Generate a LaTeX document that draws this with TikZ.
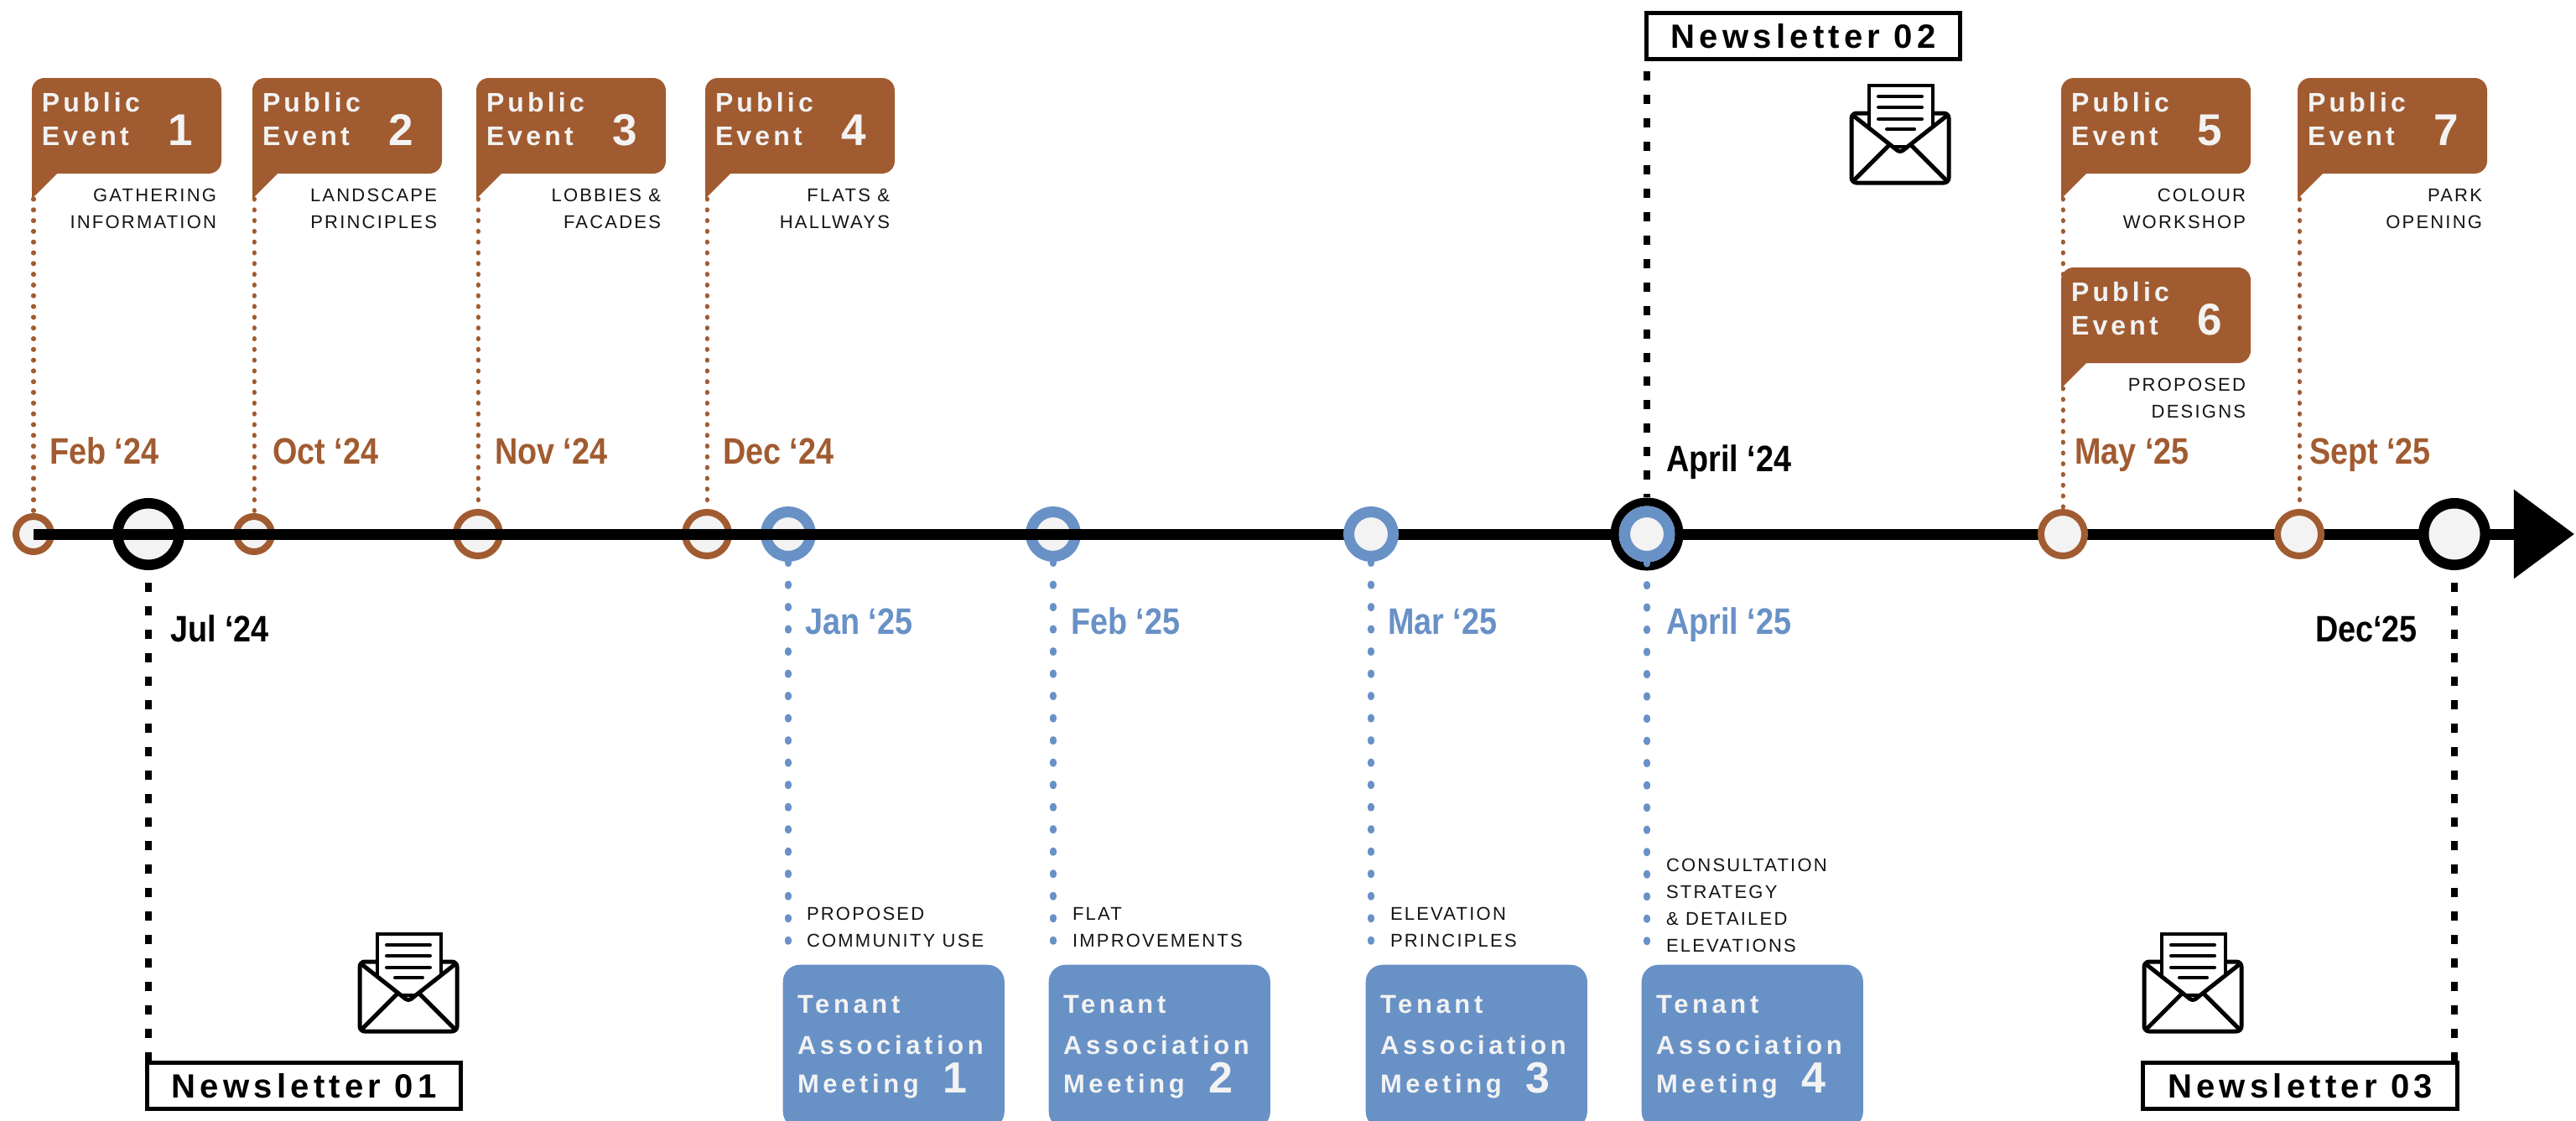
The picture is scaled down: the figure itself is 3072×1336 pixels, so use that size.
\documentclass[tikz,border=0pt]{standalone}
\usepackage{fontspec}
\setmainfont{Liberation Sans}
\newfontfamily\boxfont{Liberation Sans}[LetterSpace=13]
\newfontfamily\tamfont{Liberation Sans}[LetterSpace=15]
\newfontfamily\descfont{Liberation Sans}[LetterSpace=10]
\newfontfamily\datefont{Liberation Sans}[FakeStretch=0.86]
\usetikzlibrary{arrows.meta}
\definecolor{brownc}{RGB}{161,91,48}
\definecolor{bluec}{RGB}{104,145,198}
\definecolor{ringfill}{RGB}{243,243,243}
\definecolor{boxtxt}{RGB}{243,243,243}
\definecolor{desctxt}{RGB}{20,20,20}
\tikzset{
 txt/.style={inner sep=0pt, outer sep=0pt},
 pubtxt/.style={txt, anchor=base west, text=boxtxt, font={\boxfont\bfseries\fontsize{9.1pt}{10pt}\selectfont}},
 pubnum/.style={txt, anchor=base west, text=boxtxt, font={\bfseries\fontsize{15.1pt}{16pt}\selectfont}},
 tamtxt/.style={txt, anchor=base west, text=boxtxt, font={\tamfont\bfseries\fontsize{8.8pt}{10pt}\selectfont}},
 tamnum/.style={txt, anchor=base west, text=boxtxt, font={\bfseries\fontsize{14.8pt}{16pt}\selectfont}},
 desc/.style={txt, text=desctxt, font={\descfont\fontsize{6.26pt}{7pt}\selectfont}},
 datelbl/.style={txt, anchor=base west, font={\datefont\bfseries\fontsize{12.5pt}{14pt}\selectfont}},
 brdot/.style={circle, draw=brownc, fill=ringfill, line width=0.08cm, inner sep=0pt, minimum size=#1},
 brdot/.default=0.52cm,
 bldot/.style={circle, draw=bluec, fill=ringfill, line width=0.13cm, inner sep=0pt, minimum size=0.53cm},
 bkring/.style={circle, draw=black, fill=ringfill, line width=0.125cm, inner sep=0pt, minimum size=0.735cm},
 browndots/.style={draw=brownc, line width=0.05cm, line cap=round, dash pattern=on 0.01cm off 0.118cm},
 bluedots/.style={draw=bluec, line width=0.08cm, line cap=round, dash pattern=on 0.02cm off 0.245cm},
 blackdash/.style={draw=black, line width=0.08cm, dash pattern=on 0.11cm off 0.17cm},
 nlbox/.style={draw=black, line width=0.05cm, fill=white, inner sep=0pt, minimum width=3.74cm, minimum height=0.55cm, font={\boxfont\bfseries\fontsize{11.4pt}{12pt}\selectfont}},
 tambox/.style={fill=bluec, rounded corners=0.2cm, anchor=north west, inner sep=0pt, minimum width=2.64cm, minimum height=1.95cm},
 timeline/.style={line width=0.13cm, draw=black},
 envelope/.pic={
  \draw[line width=0.05cm, rounded corners=0.06cm, fill=white] (2,35) rectangle (118,118);
  \draw[line width=0.045cm, fill=white] (23,2) rectangle (99,75);
  \fill[white] (5,41) -- (60,83) -- (115,41) -- (115,115) -- (5,115) -- cycle;
  \draw[line width=0.05cm, line join=round, rounded corners=0.04cm] (3,37) -- (60,82) -- (117,37);
  \draw[line width=0.05cm, line cap=round] (4,116) -- (47,73);
  \draw[line width=0.05cm, line cap=round] (116,116) -- (73,73);
  \draw[line width=0.04cm, line cap=round] (34,15) -- (86,15) (34,28) -- (86,28) (34,42) -- (86,42) (44,54) -- (77,54);
 }
}
\newcommand\peCallout[6]{%
 \fill[brownc, rounded corners=0.15cm] (#2,#3) rectangle ++(226,114);
 \fill[brownc] (#2,#3+95) -- (#2,#3+144) -- (#2+30,#3+114) -- (#2+30,#3+95) -- cycle;
 \coordinate (#1tip) at (#2,#3+144);
 \node[pubtxt] (#1a) at (#2+12,#3+40) {Public};
 \node[pubtxt] (#1b) at (#2+12,#3+80) {Event};
 \node[pubnum] (#1n) at (#2+162,#3+80) {#4};
 \node[desc, anchor=base east] (#1c) at (#2+220,#3+147) {#5};
 \node[desc, anchor=base east] (#1d) at (#2+220,#3+179) {#6};
}
\newcommand\tamBox[3]{%
 \node[tambox] (#1) at (#2,1150) {};
 \node[tamtxt] (#1a) at (#2+18,1208) {Tenant};
 \node[tamtxt] (#1b) at (#2+18,1257) {Association};
 \node[tamtxt] (#1c) at (#2+18,1303) {Meeting};
 \node[tamnum] (#1n) at (#2+191,1303) {#3};
}
\begin{document}
\begin{tikzpicture}[x=0.01cm,y=-0.01cm]
\useasboundingbox (0,0) rectangle (3072,1336);
\clip (0,0) rectangle (3072,1336);
\fill[white] (0,0) rectangle (3072,1336);

% timeline
\coordinate (tstart) at (40,637);
\coordinate (arrowtip) at (3070,637);
\coordinate (frontend) at (1590,637);
\draw[timeline, -{Triangle[length=0.72cm, width=1.03cm]}] (tstart) -- (arrowtip);

% dots
\node[brdot=0.42cm] (d1) at (40,637) {};
\node[bkring] (jul) at (177,637) {};
\node[brdot=0.42cm] (d2) at (303,637) {};
\node[brdot] (d3) at (570,637) {};
\node[brdot] (d4) at (843,637) {};
\node[bldot] (j1) at (940,637) {};
\node[bldot] (j2) at (1256,637) {};
\node[bldot] (j3) at (1635,637) {};
\node[circle, draw=black, line width=0.1cm, minimum size=0.77cm, inner sep=0pt] (apr) at (1964,637) {};
\node[bldot, minimum size=0.535cm, line width=0.135cm] (j4) at (1964,637) {};
\node[brdot] (d5) at (2460,637) {};
\node[brdot] (d6) at (2742,637) {};
\node[bkring] (dec25) at (2927,637) {};
\draw[timeline] (tstart) -- (frontend);

% public event callouts
\peCallout{pe1}{38}{93}{1}{GATHERING}{INFORMATION}
\peCallout{pe2}{301}{93}{2}{LANDSCAPE}{PRINCIPLES}
\peCallout{pe3}{568}{93}{3}{LOBBIES \&}{FACADES}
\peCallout{pe4}{841}{93}{4}{FLATS \&}{HALLWAYS}
\peCallout{pe5}{2458}{93}{5}{COLOUR}{WORKSHOP}
\peCallout{pe6}{2458}{319}{6}{PROPOSED}{DESIGNS}
\peCallout{pe7}{2740}{93}{7}{PARK}{OPENING}

\draw[browndots] (d1.north |- pe1tip) -- (d1.north);
\draw[browndots] (d2.north |- pe2tip) -- (d2.north);
\draw[browndots] (d3.north |- pe3tip) -- (d3.north);
\draw[browndots] (d4.north |- pe4tip) -- (d4.north);
\draw[browndots] (d5.north |- pe5tip) -- (pe6tip -| d5.north);
\draw[browndots] (d5.north |- pe6tip) -- (d5.north);
\draw[browndots] (d6.north |- pe7tip) -- (d6.north);

% date labels
\node[datelbl, text=brownc] (l1) at (59,553) {Feb ‘24};
\node[datelbl, text=brownc] (l2) at (325,553) {Oct ‘24};
\node[datelbl, text=brownc] (l3) at (590,553) {Nov ‘24};
\node[datelbl, text=brownc] (l4) at (862,553) {Dec ‘24};
\node[datelbl, text=brownc] (l5) at (2474,553) {May ‘25};
\node[datelbl, text=brownc] (l6) at (2754,553) {Sept ‘25};
\node[datelbl, text=black] (l7) at (1987,562) {April ‘24};
\node[datelbl, text=black] (l8) at (203,765) {Jul ‘24};
\node[datelbl, text=black, anchor=base east] (l9) at (2883,765) {Dec‘25};
\node[datelbl, text=bluec] (b1) at (960,756) {Jan ‘25};
\node[datelbl, text=bluec] (b2) at (1277,756) {Feb ‘25};
\node[datelbl, text=bluec] (b3) at (1655,756) {Mar ‘25};
\node[datelbl, text=bluec] (b4) at (1987,756) {April ‘25};

% tenant association meetings
\tamBox{tam1}{933}{1}
\tamBox{tam2}{1250}{2}
\tamBox{tam3}{1628}{3}
\tamBox{tam4}{1957}{4}

\draw[bluedots, shorten >=0.1cm] (j1.south) -- (j1.south |- tam1.north);
\draw[bluedots, shorten >=0.1cm] (j2.south) -- (j2.south |- tam2.north);
\draw[bluedots, shorten >=0.1cm] (j3.south) -- (j3.south |- tam3.north);
\draw[bluedots, shorten >=0.1cm] (j4.south) -- (j4.south |- tam4.north);

\node[desc, anchor=base west] (m1a) at (962,1097) {PROPOSED};
\node[desc, anchor=base west] (m1b) at (962,1129) {COMMUNITY USE};
\node[desc, anchor=base west] (m2a) at (1279,1097) {FLAT};
\node[desc, anchor=base west] (m2b) at (1279,1129) {IMPROVEMENTS};
\node[desc, anchor=base west] (m3a) at (1658,1097) {ELEVATION};
\node[desc, anchor=base west] (m3b) at (1658,1129) {PRINCIPLES};
\node[desc, anchor=base west] (m4a) at (1987,1039) {CONSULTATION};
\node[desc, anchor=base west] (m4b) at (1987,1071) {STRATEGY};
\node[desc, anchor=base west] (m4c) at (1987,1103) {\& DETAILED};
\node[desc, anchor=base west] (m4d) at (1987,1135) {ELEVATIONS};

% newsletters
\node[nlbox] (nl1) at (362.5,1295) {Newsletter 01};
\node[nlbox] (nl2) at (2150.5,43) {Newsletter 02};
\node[nlbox] (nl3) at (2743,1295) {Newsletter 03};
\draw[blackdash, shorten <=0.15cm] (jul.south) -- (jul.south |- nl1.north);
\draw[blackdash, shorten <=0.12cm] (nl2.south -| apr.north) -- (apr.north);
\draw[blackdash, shorten <=0.15cm] (dec25.south) -- (dec25.south |- nl3.north);

\pic (env1) at (427,1112) {envelope};
\pic (env2) at (2206,100) {envelope};
\pic (env3) at (2555,1112) {envelope};
\end{tikzpicture}
\end{document}
